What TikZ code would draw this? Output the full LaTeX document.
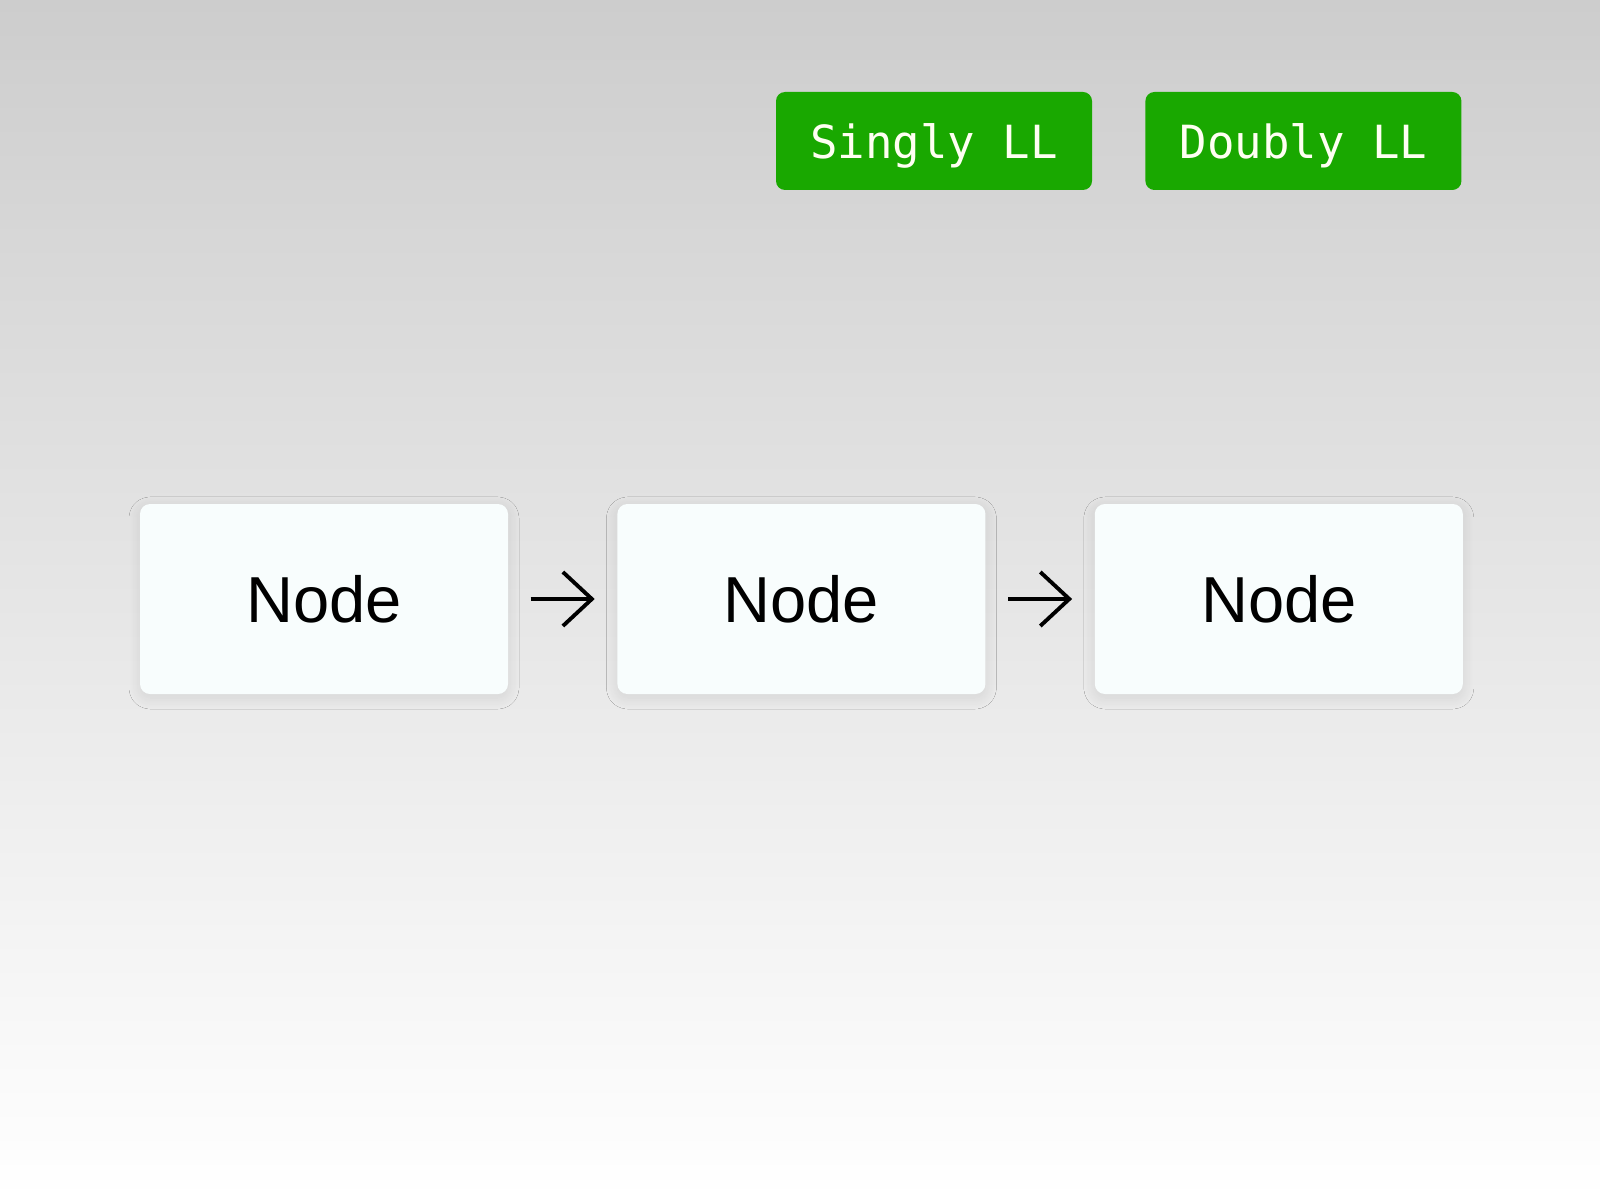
\documentclass[tikz,border=0pt]{standalone}
\usepackage{tikz}
\usepackage{xcolor}
\usepackage{fontspec}
\setmainfont{Liberation Sans}
\newfontfamily\buttonfont{DejaVu Sans Mono}
\usetikzlibrary{arrows.meta, positioning, shadows.blur}
\definecolor{BgTop}{HTML}{CDCDCD}
\definecolor{BgBottom}{HTML}{FFFFFF}
\definecolor{ListGreen}{HTML}{19A800}
\definecolor{ListWhite}{HTML}{F8FDFD}
\definecolor{ListText}{HTML}{FFFFF2}
\tikzset{
    % Box styles - small rounded corners
    listnode/.style={
        rectangle,
        rounded corners=1mm,
        fill=ListWhite,
        minimum width=3.68cm,
        minimum height=1.9cm,
        align=center,
        font=\fontsize{18.5}{22}\selectfont,
        text depth=0pt,
        blur shadow={shadow xshift=0pt, shadow yshift=-0.4mm,
            shadow blur radius=1.1mm, shadow blur steps=14,
            shadow opacity=9}
    },
    button/.style={
        rectangle,
        rounded corners=0.9mm,
        fill=ListGreen,
        text=ListText,
        minimum width=3.16cm,
        minimum height=0.98cm,
        align=center,
        text depth=0pt,
        font=\buttonfont\fontsize{13}{16}\selectfont
    },
    % Arrow style - open barb
    link/.style={
        -{Straight Barb[length=2.9mm, width=5.4mm]},
        line width=1.1pt,
        draw=black,
        shorten <=0.22cm,
        shorten >=0.22cm
    }
}
\begin{document}
\begin{tikzpicture}
    % Background
    \shade[top color=BgTop, bottom color=BgBottom] (0,0) rectangle (16,12);
    \useasboundingbox (0,0) rectangle (16,12);

    % Buttons
    \node[button] (singly) at (9.34,10.59) {Singly LL};
    \node[button, right=0.52cm of singly] (doubly) {Doubly LL};

    % List nodes
    \node[listnode] (node1) at (3.24,6.01) {Node};
    \node[listnode, right=1.08cm of node1] (node2) {Node};
    \node[listnode, right=1.08cm of node2] (node3) {Node};

    % Links
    \draw[link] (node1) -- (node2);
    \draw[link] (node2) -- (node3);
\end{tikzpicture}
\end{document}
